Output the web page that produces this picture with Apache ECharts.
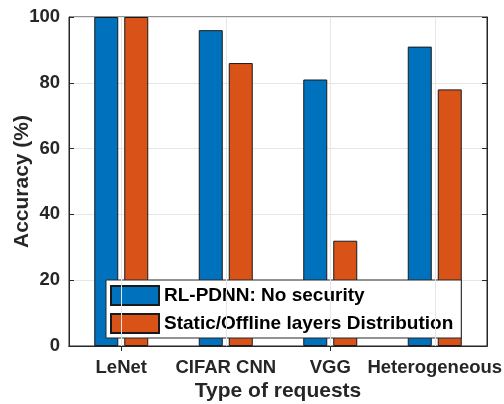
<!DOCTYPE html>
<html>
<head>
<meta charset="utf-8">
<script src="https://cdn.jsdelivr.net/npm/echarts@6/dist/echarts.min.js"></script>
<style>html,body{margin:0;padding:0;background:#fff}#c{width:504px;height:404px}</style>
</head>
<body>
<div id="c"></div>
<script>
const categories = ['LeNet', 'CIFAR CNN', 'VGG', 'Heterogeneous'];
const rlPdnn = [100, 96, 81, 91];
const staticOffline = [100, 86, 32, 78];
const seriesNames = ['RL-PDNN: No security', 'Static/Offline layers Distribution'];
const yTicks = [0, 20, 40, 60, 80, 100];

const FONT = '"Liberation Sans", Arial, Helvetica, sans-serif';
const chart = echarts.init(document.getElementById('c'), null, {renderer: 'canvas'});
const axisColor = '#262626';
chart.setOption({
  animation: false,
  backgroundColor: '#fff',
  grid: {left: 69, right: 17, top: 17, bottom: 58, show: true, borderColor: axisColor, borderWidth: 1,
         backgroundColor: 'transparent', containLabel: false, outerBoundsMode: 'none'},
  legend: {
    orient: 'vertical', left: 106, top: 280,
    data: seriesNames.map(n => ({name: n, icon: 'rect'})),
    itemWidth: 48, itemHeight: 19, itemGap: 7,
    padding: [5, 8, 4, 4],
    backgroundColor: '#fff', borderColor: axisColor, borderWidth: 1,
    textStyle: {fontFamily: FONT, fontWeight: 'bold', fontSize: 19, color: '#000'}
  },
  xAxis: [{
    type: 'category', data: categories, boundaryGap: true,
    name: 'Type of requests', nameLocation: 'middle', nameGap: 35, nameMoveOverlap: false,
    nameTextStyle: {fontFamily: FONT, fontWeight: 'bold', fontSize: 21, color: '#262626'},
    axisLine: {show: true, lineStyle: {color: axisColor}},
    axisTick: {show: true, inside: true, alignWithLabel: true, length: 5, lineStyle: {color: axisColor}},
    axisLabel: {fontFamily: FONT, fontWeight: 'bold', fontSize: 18.5, color: '#262626', margin: 12, interval: 0, hideOverlap: false},
    splitLine: {show: false}
  }, {
    type: 'category', data: categories, position: 'top', boundaryGap: true,
    axisLine: {show: true, lineStyle: {color: axisColor}},
    axisTick: {show: true, inside: true, alignWithLabel: true, length: 5, lineStyle: {color: axisColor}},
    axisLabel: {show: false}, splitLine: {show: false}
  }],
  yAxis: [{
    type: 'value', min: yTicks[0], max: yTicks[yTicks.length - 1], interval: 20,
    name: 'Accuracy (%)', nameLocation: 'middle', nameGap: 36, nameMoveOverlap: false,
    nameTextStyle: {fontFamily: FONT, fontWeight: 'bold', fontSize: 21, color: '#262626'},
    axisLine: {show: true, lineStyle: {color: axisColor}},
    axisTick: {show: true, inside: true, length: 5, lineStyle: {color: axisColor}},
    axisLabel: {fontFamily: FONT, fontWeight: 'bold', fontSize: 18.5, color: '#262626', margin: 9},
    splitLine: {show: true, lineStyle: {color: '#e6e6e6', width: 1}}
  }, {
    type: 'value', position: 'right', min: yTicks[0], max: yTicks[yTicks.length - 1], interval: 20,
    axisLine: {show: true, lineStyle: {color: axisColor}},
    axisTick: {show: true, inside: true, length: 5, lineStyle: {color: axisColor}},
    axisLabel: {show: false}, splitLine: {show: false}
  }],
  series: [{
    type: 'line', data: [], silent: true, z: 1,
    markLine: {
      silent: true, symbol: 'none', label: {show: false},
      lineStyle: {color: '#e6e6e6', type: 'solid', width: 1},
      data: categories.map(c => ({xAxis: c}))
    }
  }, {
    name: seriesNames[0], type: 'bar', data: rlPdnn, z: 3,
    barWidth: 24, barGap: '25%',
    itemStyle: {color: '#0072BD', borderColor: '#1a1a1a', borderWidth: 1}
  }, {
    name: seriesNames[1], type: 'bar', data: staticOffline, z: 3,
    barWidth: 24, barGap: '25%',
    itemStyle: {color: '#D95319', borderColor: '#1a1a1a', borderWidth: 1}
  }]
});
</script>
</body>
</html>
